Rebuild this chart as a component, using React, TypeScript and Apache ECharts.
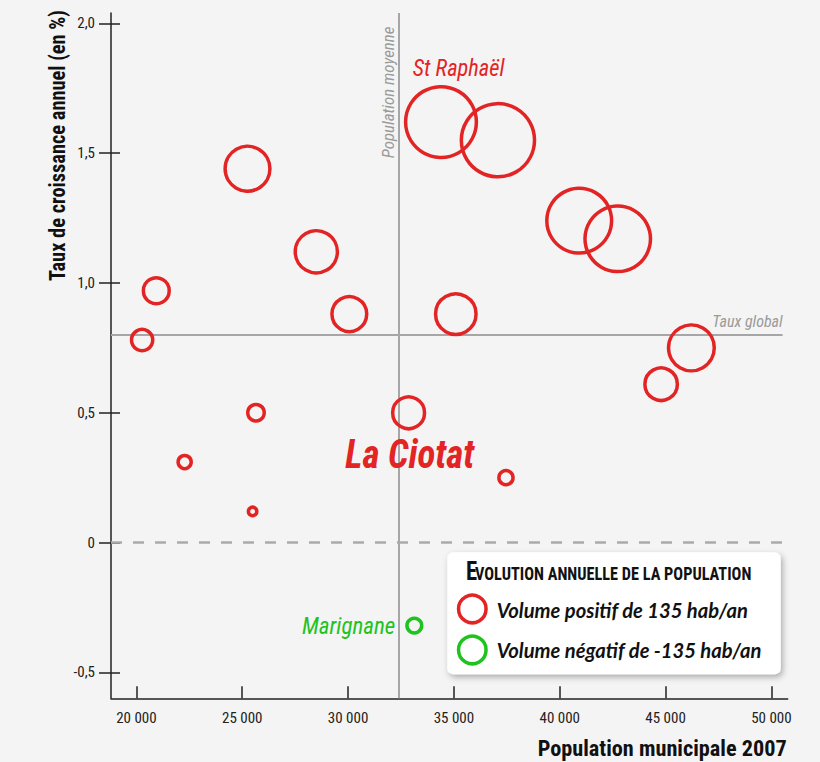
import React, { useEffect, useRef } from "react";
import * as echarts from "echarts";

// ---------- data ----------
const cityNames = ["", "", "", "", "", "St Raphaël", "", "", "", "", "", "", "", "", "", "La Ciotat", "", "Marignane"];
const population2007 = [25250, 28500, 20940, 30060, 20270, 34390, 37080, 40920, 42740, 35090, 46220, 44790, 25650, 22280, 25490, 32860, 37460, 33130];
const annualGrowthRate = [1.44, 1.12, 0.97, 0.88, 0.78, 1.62, 1.55, 1.24, 1.17, 0.88, 0.75, 0.61, 0.5, 0.31, 0.12, 0.5, 0.25, -0.32];
const annualVolume = [328, 293, 121, 206, 86, 775, 826, 655, 669, 272, 341, 182, 56, 39, 20, 176, 44, -47];
const xTickValues = [20000, 25000, 30000, 35000, 40000, 45000, 50000];
const yTickValues = [-0.5, 0, 0.5, 1, 1.5, 2];
const meanPopulation = 32400;
const globalRate = 0.8;
const legendVolume = 135;
const xRange = [18800, 50770];
const yRange = [-0.6, 2.04];
const globalLineEnd = 50530;

// ---------- styles ----------
const RED = "#e32424";
const GREEN = "#1ec31e";
const GRAY = "#a6a6a6";
const INK = "#222";
const STROKE = 3.5;
const LEGEND_D = 31;

const labelPlacement: Record<string, any> = {
  "St Raphaël": { dx: 17.6, dy: -53.6, size: 23, weight: "normal", width: 91.7, color: RED },
  "La Ciotat": { dx: 1.2, dy: 41.2, size: 41, weight: "bold", width: 129, color: RED },
  "Marignane": { dx: -65.7, dy: -0.2, size: 24, weight: "normal", width: 93.3, color: GREEN },
};

function hasFont(name: string): boolean {
  const c = document.createElement("canvas").getContext("2d");
  if (!c) return false;
  const s = "abcdefghijklmnopqrstuvwxyz ABCDEFGHIJ 0123456789";
  c.font = "40px monospace";
  const w1 = c.measureText(s).width;
  c.font = `40px "${name}", monospace`;
  const w2 = c.measureText(s).width;
  return Math.abs(w1 - w2) > 0.5;
}

function diameterFor(v: number) {
  return LEGEND_D * Math.sqrt(Math.abs(v) / legendVolume);
}

export default function App() {
  const ref = useRef<HTMLDivElement>(null);
  useEffect(() => {
    document.body.style.margin = "0";
    if (!ref.current) return;
    const candidates = ["Roboto Condensed", "Liberation Sans Narrow", "Noto Sans Condensed", "DejaVu Sans Condensed", "Open Sans Condensed", "Arial Narrow"];
    const narrow = candidates.find((n) => hasFont(n)) || null;
    const NARROW = narrow ? `"${narrow}", Roboto, sans-serif` : "Roboto, sans-serif";
    const LEGENDFONT = "Lato, Roboto, sans-serif";

    const chart = echarts.init(ref.current, undefined, { renderer: "svg" });
    const pos: any[] = [];
    const neg: any[] = [];
    population2007.forEach((x, i) => {
      const item = { value: [x, annualGrowthRate[i], annualVolume[i]], name: cityNames[i] };
      (annualVolume[i] >= 0 ? pos : neg).push(item);
    });
    const sizeFn = (val: number[]) => diameterFor(val[2]) - STROKE;
    const xFmt = (v: number) => String(v).replace(/\B(?=(\d{3})+(?!\d))/g, " ");
    const yFmt = (v: number) => (v === 0 ? "0" : v.toFixed(1).replace(".", ","));

    const axisLabelBase = { fontFamily: NARROW, fontSize: 15, color: INK };
    chart.setOption({
      animation: false,
      backgroundColor: "#f4f4f4",
      grid: { left: 111, top: 13, width: 676.7, height: 685.3 },
      xAxis: {
        type: "value",
        min: xRange[0],
        max: xRange[1],
        axisLine: { show: true, onZero: false, lineStyle: { color: INK, width: 1.5 } },
        axisTick: { show: true, inside: true, length: 12, lineStyle: { color: INK, width: 1.5 }, customValues: xTickValues },
        axisLabel: { ...axisLabelBase, margin: 12, customValues: xTickValues, formatter: xFmt },
        splitLine: { show: false },
      },
      yAxis: [
        {
          type: "value",
          min: yRange[0],
          max: yRange[1],
          axisLine: { show: true, onZero: false, lineStyle: { color: INK, width: 1.5 } },
          axisTick: { show: true, inside: false, length: 12, lineStyle: { color: INK, width: 1.5 }, customValues: yTickValues },
          axisLabel: { ...axisLabelBase, margin: 16, customValues: yTickValues, formatter: yFmt },
          splitLine: { show: false },
        },
        {
          type: "value",
          min: yRange[0],
          max: yRange[1],
          position: "left",
          axisLine: { show: false, onZero: false },
          axisTick: { show: true, inside: true, length: 9, lineStyle: { color: INK, width: 1.5 }, customValues: yTickValues },
          axisLabel: { show: false },
          splitLine: { show: false },
        },
      ],
      series: [
        {
          name: "Volume positif",
          type: "scatter",
          silent: true,
          symbol: "circle",
          symbolSize: sizeFn,
          itemStyle: { color: "rgba(0,0,0,0)", borderColor: RED, borderWidth: STROKE, opacity: 1 },
          data: pos,
          z: 5,
          markLine: {
            silent: true,
            symbol: ["none", "none"],
            label: { show: false },
            emphasis: { disabled: true },
            data: [
              { xAxis: meanPopulation, lineStyle: { color: GRAY, width: 2, type: "solid" } },
              [
                { coord: [xRange[0], globalRate], lineStyle: { color: GRAY, width: 2, type: "solid" } },
                { coord: [globalLineEnd, globalRate], lineStyle: { color: GRAY, width: 2, type: "solid" } },
              ],
              { yAxis: 0, lineStyle: { color: "#aaaaaa", width: 2.5, type: [11, 11] } },
            ],
          },
        },
        {
          name: "Volume négatif",
          type: "scatter",
          silent: true,
          symbol: "circle",
          symbolSize: sizeFn,
          itemStyle: { color: "rgba(0,0,0,0)", borderColor: GREEN, borderWidth: STROKE, opacity: 1 },
          data: neg,
          z: 5,
        },
      ],
    });

    // ---------- annotations placed through the chart's own scales ----------
    const mctx = document.createElement("canvas").getContext("2d")!;
    const fontStr = (style: string, weight: string, size: number, fam: string) => `${style} ${weight} ${size}px ${fam}`;
    const fit = (text: string, font: string, target: number) => {
      mctx.font = font;
      const w = mctx.measureText(text).width;
      return w > 0 ? target / w : 1;
    };
    const txt = (o: any) => {
      const font = fontStr(o.style || "normal", o.weight || "normal", o.size, o.family);
      const sx = o.width ? fit(o.text, font, o.width) : o.scaleX || 1;
      return {
        type: "text",
        x: o.x,
        y: o.y,
        rotation: o.rotation || 0,
        scaleX: sx,
        silent: true,
        z: 100,
        style: {
          text: o.text,
          fill: o.color,
          font,
          fontStyle: o.style || "normal",
          fontWeight: o.weight || "normal",
          fontSize: o.size,
          fontFamily: o.family,
          align: o.align || "left",
          textAlign: o.align || "left",
          verticalAlign: "middle",
          textVerticalAlign: "middle",
        },
      };
    };
    const toPx = (x: number, y: number) => chart.convertToPixel({ gridIndex: 0 }, [x, y]) as number[];
    const els: any[] = [];

    const meanTop = toPx(meanPopulation, yRange[1]);
    els.push(txt({ text: "Population moyenne", x: meanTop[0] - 10.8, y: meanTop[1] + 13.7, rotation: Math.PI / 2, align: "right", style: "italic", size: 17, family: NARROW, color: "#9a9a9a", width: 131.6 }));
    const globEnd = toPx(globalLineEnd, globalRate);
    els.push(txt({ text: "Taux global", x: globEnd[0], y: globEnd[1] - 13.4, align: "right", style: "italic", size: 17, family: NARROW, color: "#9a9a9a", width: 70.4 }));

    cityNames.forEach((name, i) => {
      const p = labelPlacement[name];
      if (!name || !p) return;
      const a = toPx(population2007[i], annualGrowthRate[i]);
      els.push(txt({ text: name, x: a[0] + p.dx, y: a[1] + p.dy, align: "center", style: "italic", weight: p.weight, size: p.size, family: NARROW, color: p.color, width: p.width }));
    });

    // axis titles
    els.push(txt({ text: "Taux de croissance annuel (en %)", x: 56.9, y: 145.5, rotation: Math.PI / 2, align: "center", weight: "bold", size: 22, family: NARROW, color: "#111", width: 271 }));
    els.push(txt({ text: "Population municipale 2007", x: 786.7, y: 748.5, align: "right", weight: "bold", size: 22, family: NARROW, color: "#111", width: 249 }));

    // legend box
    els.push({
      type: "rect",
      silent: true,
      z: 90,
      shape: { x: 447.3, y: 552.3, width: 333.4, height: 122, r: 6 },
      style: { fill: "#ffffff", shadowBlur: 6, shadowOffsetX: 2, shadowOffsetY: 3, shadowColor: "rgba(0,0,0,0.3)" },
    });
    const restTitle = "VOLUTION ANNUELLE DE LA POPULATION";
    const titleScale = fit(restTitle, fontStr("normal", "bold", 18, NARROW), 276.7);
    els.push(txt({ text: "E", x: 466, y: 571.8, weight: "bold", size: 25, family: NARROW, color: "#111", scaleX: titleScale }));
    els.push(txt({ text: restTitle, x: 475, y: 573.9, weight: "bold", size: 18, family: NARROW, color: "#111", width: 276.7 }));
    els.push({ type: "circle", silent: true, z: 100, shape: { cx: 472.3, cy: 609, r: (LEGEND_D - STROKE) / 2 }, style: { fill: "none", stroke: RED, lineWidth: STROKE } });
    els.push({ type: "circle", silent: true, z: 100, shape: { cx: 472.3, cy: 650, r: (LEGEND_D - STROKE) / 2 }, style: { fill: "none", stroke: GREEN, lineWidth: STROKE } });
    els.push(txt({ text: `Volume positif de ${legendVolume} hab/an`, x: 496.7, y: 610, style: "italic", weight: "bold", size: 20, family: LEGENDFONT, color: "#111", width: 251.7 }));
    els.push(txt({ text: `Volume négatif de -${legendVolume} hab/an`, x: 496.7, y: 650, style: "italic", weight: "bold", size: 20, family: LEGENDFONT, color: "#111", width: 265 }));

    chart.setOption({ graphic: { elements: els } });

    return () => chart.dispose();
  }, []);
  return <div ref={ref} style={{ width: 820, height: 762 }} />;
}
